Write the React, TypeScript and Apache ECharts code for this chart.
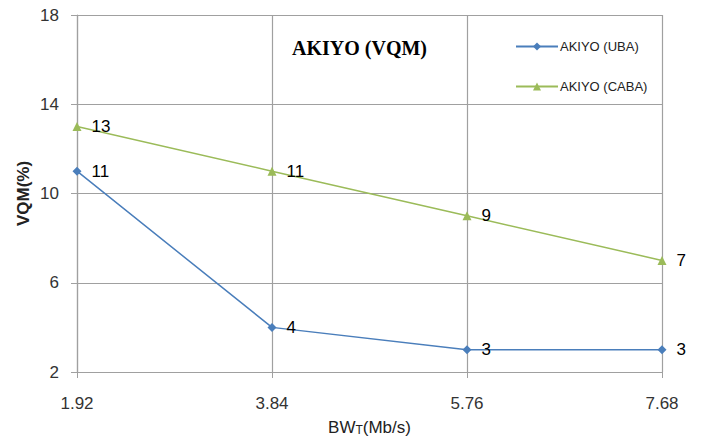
import React, { useEffect, useRef } from "react";
import * as echarts from "echarts";

const categories = ["1.92", "3.84", "5.76", "7.68"];
const ubaValues = [11, 4, 3, 3];
const cabaValues = [13, 11, 9, 7];
const yTicks = { min: 2, max: 18, interval: 4 };

export default function App() {
  const ref = useRef<HTMLDivElement>(null);
  useEffect(() => {
    const chart = echarts.init(ref.current!, null, { renderer: "svg" });
    const font = "Liberation Sans";
    chart.setOption({
      animation: false,
      backgroundColor: "#ffffff",
      title: {
        text: "AKIYO (VQM)",
        left: 287,
        top: 33,
        textStyle: { fontFamily: "Liberation Serif", fontWeight: "bold", fontSize: 20, color: "#000" },
      },
      legend: {
        orient: "vertical",
        left: 510,
        top: 35,
        itemWidth: 42,
        itemHeight: 10,
        itemGap: 27,
        textStyle: { fontFamily: font, fontSize: 13, color: "#222", padding: [0, 0, 0, -3] },
        data: ["AKIYO (UBA)", "AKIYO (CABA)"],
      },
      grid: { left: 77, top: 15, right: 39, bottom: 67, containLabel: false, outerBoundsMode: "none" },
      xAxis: {
        type: "category",
        data: categories,
        boundaryGap: false,
        name: "BW{t|T}(Mb/s)",
        nameLocation: "middle",
        nameGap: 47,
        nameMoveOverlap: false,
        nameTextStyle: {
          fontFamily: font,
          fontSize: 17,
          color: "#222",
          rich: { t: { fontFamily: font, fontSize: 12, color: "#222", verticalAlign: "bottom" } },
        },
        axisLine: { show: true, lineStyle: { color: "#a0a0a0", width: 1.2 } },
        axisTick: { show: true, length: 6, inside: false, lineStyle: { color: "#a0a0a0" } },
        axisLabel: { fontFamily: font, fontSize: 17, color: "#333", margin: 23 },
        splitLine: { show: true, lineStyle: { color: "#a0a0a0", width: 1.2 } },
      },
      yAxis: {
        type: "value",
        min: yTicks.min,
        max: yTicks.max,
        interval: yTicks.interval,
        name: "VQM(%)",
        nameLocation: "middle",
        nameGap: 45,
        nameMoveOverlap: false,
        nameTextStyle: { fontFamily: font, fontSize: 17, fontWeight: "bold", color: "#222" },
        axisLine: { show: true, lineStyle: { color: "#a0a0a0", width: 1.2 } },
        axisTick: { show: true, length: 6, lineStyle: { color: "#a0a0a0" } },
        axisLabel: { fontFamily: font, fontSize: 17, color: "#333", margin: 18 },
        splitLine: { show: true, lineStyle: { color: "#a0a0a0", width: 1.2 } },
      },
      series: [
        {
          name: "AKIYO (UBA)",
          type: "line",
          data: ubaValues,
          symbol: "diamond",
          symbolSize: 9,
          itemStyle: { color: "#4a7ebb" },
          lineStyle: { color: "#4a7ebb", width: 1.5 },
          label: { show: true, position: "right", distance: 10, fontFamily: font, fontSize: 17, color: "#000" },
        },
        {
          name: "AKIYO (CABA)",
          type: "line",
          data: cabaValues,
          symbol: "triangle",
          symbolSize: 9,
          itemStyle: { color: "#9bbb59" },
          lineStyle: { color: "#9bbb59", width: 1.5 },
          label: { show: true, position: "right", distance: 10, fontFamily: font, fontSize: 17, color: "#000" },
        },
      ],
    });
    return () => chart.dispose();
  }, []);
  return (
    <div
      ref={ref}
      style={{ position: "fixed", left: 0, top: 0, width: 701, height: 439, background: "#fff" }}
    />
  );
}
